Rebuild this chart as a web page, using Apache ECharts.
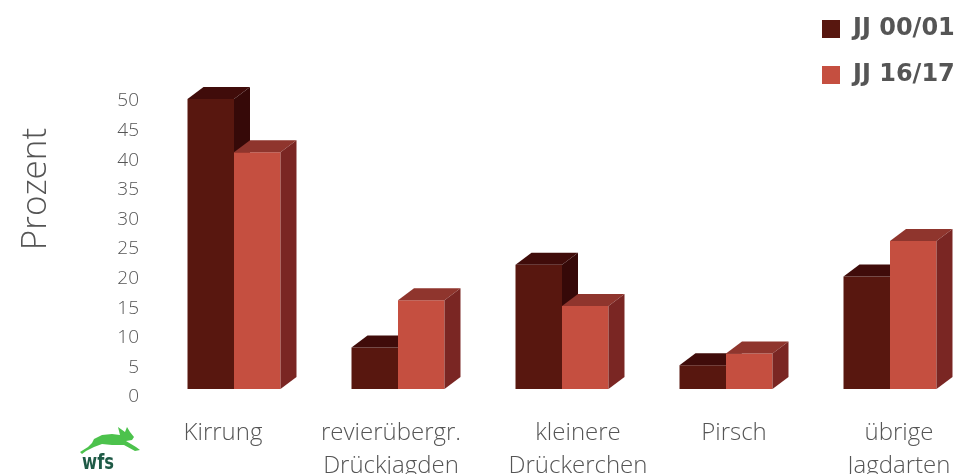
<!DOCTYPE html>
<html>
<head>
<meta charset="utf-8">
<script src="https://cdn.jsdelivr.net/npm/echarts@6/dist/echarts.min.js"></script>
<style>
html,body{margin:0;padding:0;background:#fff;}
#chart{width:975px;height:474px;}
</style>
</head>
<body>
<div id="chart"></div>
<script>
// ---- data ----
const categories = ['Kirrung', 'revierübergr.\nDrückjagden', 'kleinere\nDrückerchen', 'Pirsch', 'übrige\nJagdarten'];
const seriesNames = ['JJ 00/01', 'JJ 16/17'];
const valuesJJ0001 = [49, 7, 21, 4, 19];
const valuesJJ1617 = [40, 15, 14, 6, 25];
const yMin = 0, yMax = 50, yStep = 5;

// ---- layout / style constants ----
const FONT = '"Open Sans", Lato, sans-serif';
const TEXT = '#555555';
const labelShift = [-11, -7, 16, 8, 9]; // horizontal nudge of category labels (px)
const BAR_RATIO = 0.2835;
const DX = 16, DY = 12;
const palettes = [
  {front: '#58170f', top: '#400c0a', side: '#360908'},
  {front: '#c54f40', top: '#8f352d', side: '#7a2623'}
];
// logo hare silhouette (decoration)
const harePoints = [[0,25],[8,20],[12,16],[14,12],[22,8],[32,7],[40,8],[38,0],[45,5],[47,0],[50,5],[54,10],[52,13],[46,14],[56,20],[60,23],[55,24],[44,18],[32,18],[22,17],[14,20],[6,24],[2,27]];

function make3D(sIdx) {
  const pal = palettes[sIdx];
  return function (params, api) {
    const cat = api.value(0), val = api.value(1);
    const top = api.coord([cat, val]);
    const base = api.coord([cat, 0]);
    const band = api.size([1, 0])[0];
    const w = band * BAR_RATIO;
    const x0 = top[0] + (sIdx === 0 ? -w : 0);
    const x1 = x0 + w, y0 = top[1], y1 = base[1];
    return {
      type: 'group',
      children: [
        {type: 'rect', shape: {x: x0, y: y0, width: w, height: y1 - y0}, style: {fill: pal.front}},
        {type: 'polygon', shape: {points: [[x0, y0], [x0 + DX, y0 - DY], [x1 + DX, y0 - DY], [x1, y0]]}, style: {fill: pal.top}},
        {type: 'polygon', shape: {points: [[x1, y0], [x1 + DX, y0 - DY], [x1 + DX, y1 - DY], [x1, y1]]}, style: {fill: pal.side}}
      ]
    };
  };
}

const xData = categories.map((c, i) => {
  const s = labelShift[i];
  return {value: c, textStyle: {padding: s < 0 ? [0, -2 * s, 0, 0] : [0, 0, 0, 2 * s]}};
});

const chart = echarts.init(document.getElementById('chart'), null, {renderer: 'canvas'});
chart.setOption({
  animation: false,
  backgroundColor: '#ffffff',
  grid: {left: 152, width: 820, top: 93, bottom: 85, containLabel: false, outerBoundsMode: 'none'},
  legend: {
    orient: 'vertical', left: 817, top: 12,
    icon: 'rect', itemWidth: 18, itemHeight: 18, itemGap: 22,
    data: seriesNames,
    textStyle: {fontFamily: '"DejaVu Sans", sans-serif', fontSize: 24, fontWeight: 'bold', color: TEXT, padding: [0, 0, 0, 8]}
  },
  xAxis: {
    type: 'category', data: xData,
    axisLine: {show: false}, axisTick: {show: false},
    axisLabel: {interval: 0, fontFamily: FONT, fontSize: 24, fontWeight: 300, color: TEXT, lineHeight: 33, margin: 28}
  },
  yAxis: {
    type: 'value', min: yMin, max: yMax, interval: yStep,
    axisLine: {show: false}, axisTick: {show: false}, splitLine: {show: false},
    axisLabel: {fontFamily: FONT, fontSize: 19, fontWeight: 300, color: TEXT, margin: 13,
                verticalAlign: 'top', lineHeight: 16}
  },
  graphic: [
    {type: 'text', x: 36, y: 189, rotation: Math.PI / 2,
     style: {text: 'Prozent', fontFamily: FONT, fontSize: 35, fontWeight: 300, fill: TEXT, align: 'center', verticalAlign: 'middle'}},
    {type: 'group', x: 80, y: 427, children: [
      {type: 'polygon', shape: {points: harePoints}, style: {fill: '#4cc24c'}}
    ]},
    {type: 'text', x: 82, y: 453, scaleX: 0.78,
     style: {text: 'wfs', fontFamily: '"DejaVu Sans", sans-serif', fontWeight: 'bold', fontSize: 21, fill: '#1e5a46'}}
  ],
  series: [
    {name: seriesNames[0], type: 'custom', renderItem: make3D(0), itemStyle: {color: palettes[0].front},
     encode: {x: 0, y: 1}, data: valuesJJ0001.map((v, i) => [i, v])},
    {name: seriesNames[1], type: 'custom', renderItem: make3D(1), itemStyle: {color: palettes[1].front},
     encode: {x: 0, y: 1}, data: valuesJJ1617.map((v, i) => [i, v])}
  ]
});
</script>
</body>
</html>
